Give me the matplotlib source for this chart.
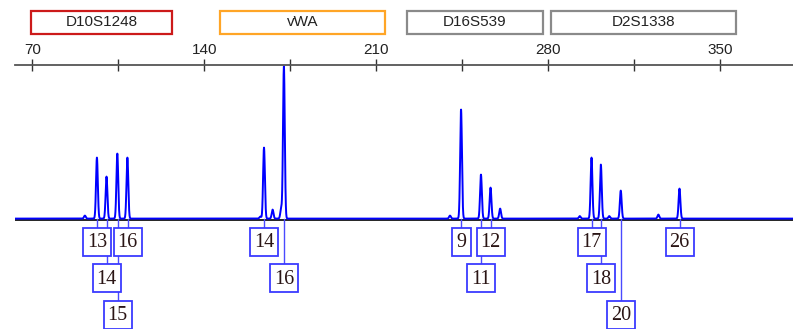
import numpy as np
import matplotlib.pyplot as plt
from matplotlib.patches import Rectangle

# loci shown above the scale (start bp, end bp)
loci = ["D10S1248", "vWA", "D16S539", "D2S1338"]
locus_start = [69.5, 146.4, 222.5, 281.1]
locus_end = [126.9, 213.6, 277.9, 356.4]
locus_colors = ["#cc1a1a", "#ffa526", "#8a8a8a", "#8a8a8a"]

# all peaks in the trace (size in bp, height in RFU)
peak_sizes = [91.4, 96.3, 100.2, 104.6, 108.7, 162.8, 164.3, 167.8, 171.3, 172.4,
              240.0, 244.5, 252.6, 256.5, 260.4, 292.8, 297.6, 301.4, 304.8, 309.5,
              324.8, 333.4]
peak_heights = [60, 1220, 840, 1300, 1220, 40, 1420, 180, 200, 3040,
                60, 2180, 880, 620, 200, 50, 1220, 1080, 50, 560,
                80, 600]

# called alleles
allele_labels = ["13", "14", "15", "16", "14", "16", "9", "11", "12", "17", "18", "20", "26"]
allele_sizes = [96.45, 100.3, 104.75, 108.8, 164.4, 172.55, 244.6, 252.7, 256.6,
                297.7, 301.5, 309.6, 333.5]
allele_rows = [0, 1, 2, 0, 0, 1, 0, 1, 0, 0, 1, 2, 0]

ticks = [70, 140, 210, 280, 350]
minor_ticks = [105, 175, 245, 315]

fig = plt.figure(figsize=(7.93, 3.29), dpi=100)
ax = fig.add_axes([15 / 793, 0, 778 / 793, 264 / 329])
ax.set_xlim(62.96, 379.6)
ax.set_ylim(-2200, 3080)

# trace
x = np.arange(62.96, 379.6, 0.02)
y = np.zeros_like(x)
for s, h in zip(peak_sizes, peak_heights):
    y += h * np.exp(-0.5 * ((x - s) / 0.36) ** 2)
ax.plot([62.96, 379.6], [-22, -22], color="black", lw=1.2, zorder=1)
ax.plot(x, y + 8, color="#0000ff", lw=1.4, zorder=2)

# scale axis on top
for side in ["bottom", "left", "right"]:
    ax.spines[side].set_visible(False)
ax.spines["top"].set_color("#555555")
ax.spines["top"].set_linewidth(1.3)
ax.set_yticks([])
ax.xaxis.tick_top()
ax.set_xticks(ticks)
ax.set_xticks(minor_ticks, minor=True)
ax.tick_params(axis="x", which="both", direction="inout", length=8, width=1,
               color="#333333", pad=2, labelsize=11, labelcolor="#222222")
for lab in ax.get_xticklabels():
    lab.set_family("Liberation Sans")

# locus boxes
for name, a, b, c in zip(loci, locus_start, locus_end, locus_colors):
    ax.add_patch(Rectangle((a, 3700), b - a, 460, facecolor="white", edgecolor=c,
                           lw=1.6, clip_on=False))
    ax.text((a + b) / 2, 3930, name, ha="center", va="center", fontsize=11,
            family="Liberation Sans", color="#222222", clip_on=False)

# allele label boxes
row_top = [-170, -900, -1630]
box_h = 566
for lab, s, r in zip(allele_labels, allele_sizes, allele_rows):
    w = 11.5 if len(lab) > 1 else 7.9
    top = row_top[r]
    ax.plot([s, s], [0, top], color="#4a4aff", lw=1, zorder=3)
    ax.add_patch(Rectangle((s - w / 2, top - box_h), w, box_h, facecolor="white",
                           edgecolor="#3a3aff", lw=1.3, zorder=4))
    ax.text(s, top - box_h / 2 - 20, lab, ha="center", va="center", fontsize=14.5,
            family="Liberation Serif", color="#2a1515", zorder=5)

fig.savefig("out.png", dpi=100)
